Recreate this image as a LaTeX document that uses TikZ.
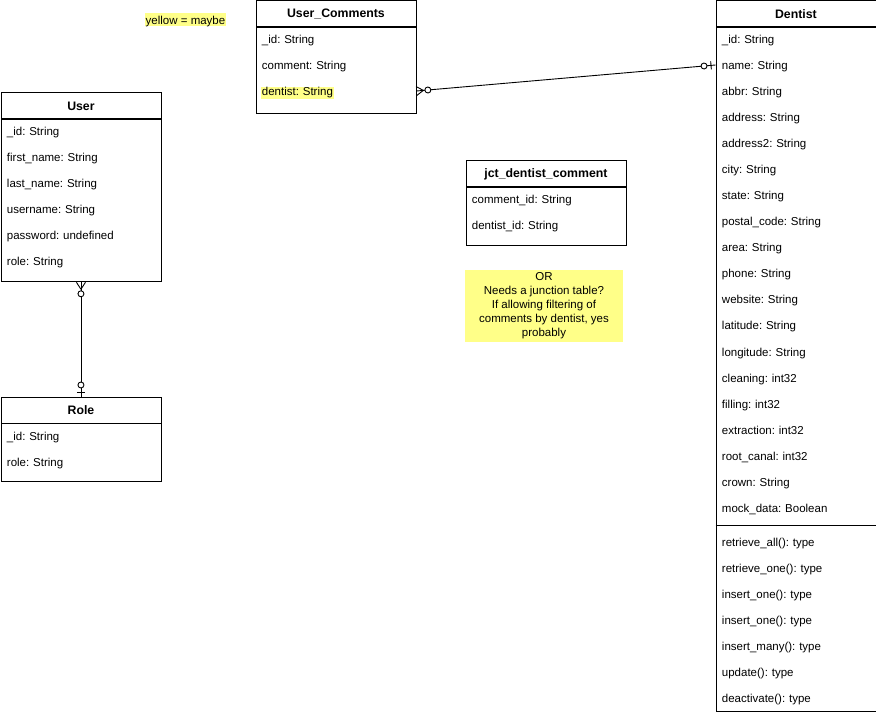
\documentclass[tikz,border=0pt]{standalone}
\usepackage{fontspec}
\setmainfont{Liberation Sans}
\usetikzlibrary{positioning,decorations.markings}
\definecolor{maybe}{HTML}{FFFF88}
\newcommand{\maybehl}[1]{{\setlength{\fboxsep}{1pt}\hspace*{-1pt}\colorbox{maybe}{#1}}}
\frenchspacing

\tikzset{
  hdr/.style={draw, anchor=north west, minimum width=160pt, minimum height=26pt, inner sep=0pt, font=\fontsize{12.3}{15}\selectfont\bfseries},
  body/.style={draw, anchor=north west, minimum width=160pt, inner sep=0pt},
  fld/.style={anchor=west, text width=148pt, inner xsep=6pt, inner ysep=0pt, align=left, text height=10pt, text depth=0pt},
  manystart/.style={postaction={decorate, decoration={markings,
      mark=at position 7pt with {\draw (0,0) -- (-7pt,4.5pt) (0,0) -- (-7pt,-4.5pt);},
      mark=at position 11.5pt with {\draw[fill=white] (0,0) circle (3pt);}}}},
  oneend/.style={postaction={decorate, decoration={markings,
      mark=at position -11.5pt with {\draw[fill=white] (0,0) circle (3pt);},
      mark=at position -4.5pt with {\draw (0,-4pt) -- (0,4pt);}}}}
}

\begin{document}
\begin{tikzpicture}[x=1pt, y=-1pt, line width=0.9pt, font=\fontsize{11.5}{14}\selectfont]
\useasboundingbox (0,0) rectangle (876,714);

% legend
\node[fill=maybe, inner sep=1pt, text height=10pt, text depth=1pt] (legend) at (185.5,20) {yellow = maybe};

% User
\node[hdr] (user) at (0.5,92.5) {User};
\node[body, minimum height=162pt] (userb) at (user.south west) {};
\foreach \t [count=\i] in {\_id:  String, first\_name:  String, last\_name: String, username: String, password: undefined, role: String}
  \node[fld] (user-\i) at (0.5,105+26*\i) {\t};

% Role
\node[hdr] (role) at (0.5,396.5) {Role};
\node[body, minimum height=58pt] (roleb) at (role.south west) {};
\foreach \t [count=\i] in {\_id: String, role: String}
  \node[fld] (role-\i) at (0.5,409+26*\i) {\t};

% User_Comments
\node[hdr] (uc) at (255.5,0.5) {User\_Comments};
\node[body, minimum height=86pt] (ucb) at (uc.south west) {};
\foreach \t [count=\i] in {\_id: String, comment: String, \maybehl{dentist: String}}
  \node[fld] (uc-\i) at (255.5,13+26*\i) {\t};

% junction table
\node[hdr] (jct) at (465.5,160.5) {jct\_dentist\_comment};
\node[body, minimum height=58pt] (jctb) at (jct.south west) {};
\foreach \t [count=\i] in {comment\_id: String, dentist\_id: String}
  \node[fld] (jct-\i) at (465.5,173+26*\i) {\t};

\node[fill=maybe, minimum width=158pt, minimum height=71pt, inner sep=0pt, align=center] (note) at (544,306)
  {OR\\Needs a junction table?\\If allowing filtering of\\comments by dentist, yes\\probably};

% Dentist
\node[hdr] (den) at (715.5,0.5) {Dentist};
\node[body, minimum height=684pt] (denb) at (den.south west) {};
\foreach \t [count=\i] in {\_id: String, name: String, abbr: String, address: String, address2: String, city: String, state: String, postal\_code: String, area: String, phone: String, website: String, latitude: String, longitude: String, cleaning: int32, filling: int32, extraction: int32, root\_canal: int32, crown: String, mock\_data: Boolean}
  \node[fld] (den-\i) at (715.5,13+26*\i) {\t};
\draw ([yshift=-498pt]den.south west) -- ([yshift=-498pt]den.south east);
\foreach \t [count=\i] in {retrieve\_all(): type, retrieve\_one(): type, insert\_one(): type, insert\_one(): type, insert\_many(): type, update(): type, deactivate(): type}
  \node[fld] (meth-\i) at (715.5,515+26*\i) {\t};

% relations
\draw[manystart, oneend] (userb.south) -- (role.north);
\draw[manystart, oneend] (uc-3.east) -- (den-2.west);
\end{tikzpicture}
\end{document}
